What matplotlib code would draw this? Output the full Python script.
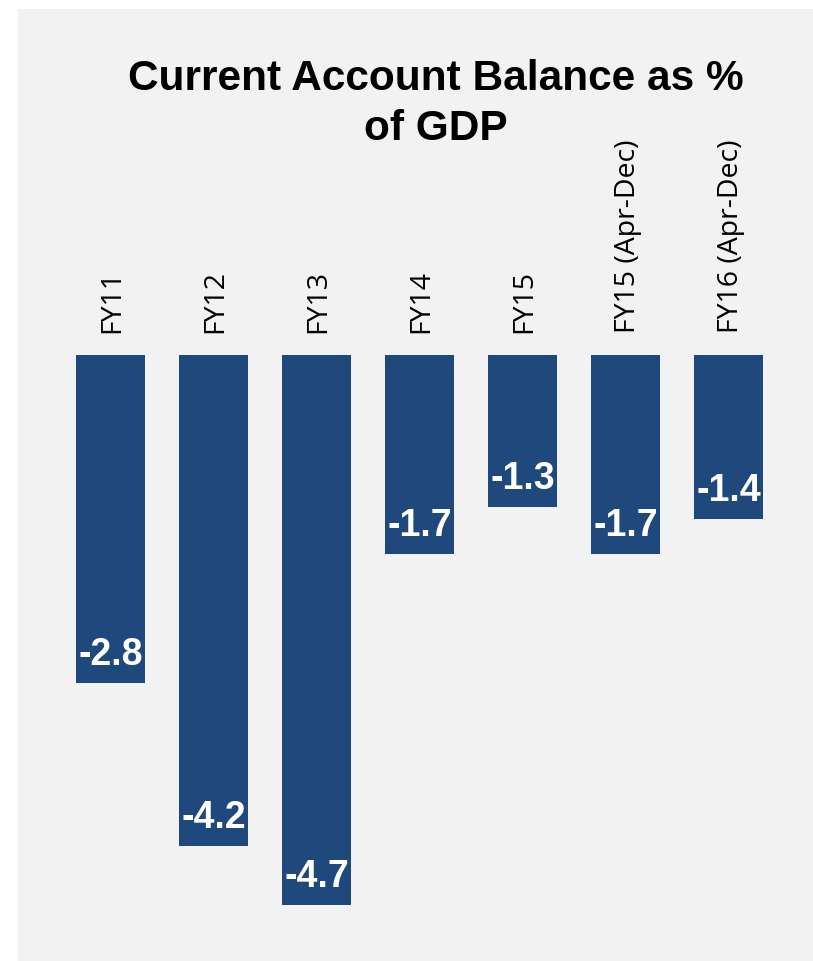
import numpy as np
import matplotlib
matplotlib.use('Agg')
import matplotlib.pyplot as plt
from matplotlib.patches import Rectangle

categories = ['FY11', 'FY12', 'FY13', 'FY14', 'FY15', 'FY15 (Apr-Dec)', 'FY16 (Apr-Dec)']
values = [-2.8, -4.2, -4.7, -1.7, -1.3, -1.7, -1.4]

W, H = 813, 962
fig = plt.figure(figsize=(W / 100, H / 100), dpi=100, facecolor='white')

# grey panel behind everything
fig.patches.append(Rectangle((18 / W, 0), 1 - 18 / W, 1 - 10 / H,
                             transform=fig.transFigure, facecolor='#f2f2f2',
                             edgecolor='none', zorder=-10))

# axes: zero line at y=356 px, 117 px per unit
ax = fig.add_axes([59 / W, (H - 941) / H, 721 / W, 585 / H])
ax.set_facecolor('none')
x = np.arange(len(categories))
ax.bar(x, values, width=0.67, color='#1f497d')
ax.set_xlim(-0.5, len(categories) - 0.5)
ax.set_ylim(-5.0, 0)
for s in ax.spines.values():
    s.set_visible(False)
ax.set_xticks([])
ax.set_yticks([])

for xi, cat, v in zip(x, categories, values):
    ax.annotate(cat, (xi, 0), xytext=(1.5, 16.5), textcoords='offset points',
                rotation=90, ha='center', va='bottom', fontsize=20.5,
                family='Open Sans', color='black', annotation_clip=False)
    ax.annotate(f'{v:.1f}', (xi, v), xytext=(0, 13.7), textcoords='offset points',
                ha='center', va='baseline', fontsize=27, fontweight='bold',
                family='Liberation Sans', color='white')

fig.text(436 / W, 1 - 59 / H, 'Current Account Balance as %\nof GDP',
         ha='center', va='top', fontsize=30.5, fontweight='bold',
         family='Liberation Sans', linespacing=1.33)

fig.savefig('out.png', dpi=100)
